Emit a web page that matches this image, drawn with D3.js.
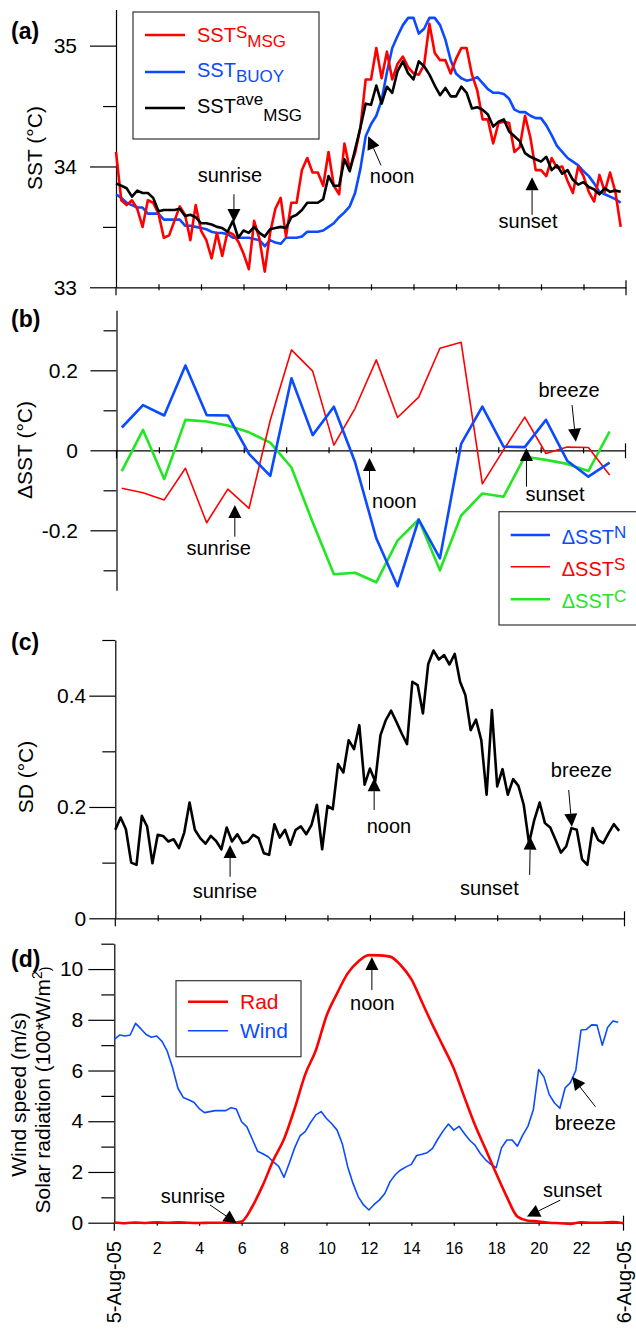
<!DOCTYPE html>
<html>
<head>
<meta charset="utf-8">
<script src="https://cdn.jsdelivr.net/npm/d3@7"></script>
<style>
body { margin:0; background:#fff; }
text { font-family: "Liberation Sans", Arial, sans-serif; }
</style>
</head>
<body>
<svg id="chart"></svg>
<script>
// sample times (hours of 5-Aug-05)
var quarterHours = d3.range(0, 24, 0.25)
var hourMid = d3.range(0.25, 24, 1)
var halfHours = d3.range(0, 24.01, 0.5)
var hourTicks = [2, 4, 6, 8, 10, 12, 14, 16, 18, 20, 22]
var dateLabels = ["5-Aug-05", "6-Aug-05"]

// (a) SST
var sstS = [34.12,33.72,33.68,33.72,33.65,33.50,33.72,33.70,33.61,33.41,33.43,33.55,33.67,33.60,33.39,33.68,
            33.47,33.39,33.24,33.45,33.26,33.46,33.44,33.38,33.28,33.15,33.55,33.40,33.13,33.45,33.65,33.74,
            33.42,33.70,33.70,33.97,34.07,33.95,33.95,33.84,34.12,33.84,33.77,34.19,33.98,34.11,34.32,34.72,
            34.72,34.98,34.73,34.95,34.72,34.85,34.91,34.82,34.77,34.76,34.84,35.18,34.94,34.88,34.88,34.77,
            34.89,34.98,34.98,34.76,34.63,34.39,34.39,34.19,34.36,34.37,34.36,34.12,34.16,34.42,34.24,33.97,
            33.97,33.92,34.07,33.99,34.00,33.88,33.78,34.00,33.92,33.79,33.71,33.93,33.79,33.95,33.79,33.50]
var sstBuoy = [33.77,33.74,33.70,33.68,33.66,33.66,33.61,33.61,33.61,33.56,33.56,33.56,33.56,33.51,33.51,33.50,
               33.49,33.48,33.46,33.45,33.45,33.44,33.41,33.41,33.41,33.41,33.40,33.39,33.34,33.39,33.37,33.36,
               33.41,33.41,33.41,33.42,33.46,33.46,33.46,33.47,33.50,33.53,33.58,33.62,33.67,33.78,33.98,34.25,
               34.35,34.42,34.55,34.78,34.98,35.08,35.17,35.23,35.23,35.10,35.14,35.23,35.23,35.17,35.05,34.88,
               34.77,34.73,34.71,34.72,34.74,34.69,34.64,34.61,34.61,34.60,34.56,34.47,34.45,34.45,34.42,34.40,
               34.40,34.34,34.26,34.17,34.12,34.07,34.04,34.01,33.96,33.92,33.86,33.79,33.77,33.75,33.73,33.70]
var sstAve = [33.86,33.84,33.82,33.75,33.80,33.78,33.78,33.74,33.63,33.64,33.64,33.64,33.65,33.59,33.60,33.58,
              33.53,33.53,33.52,33.50,33.49,33.46,33.55,33.41,33.47,33.45,33.50,33.45,33.42,33.48,33.49,33.50,
              33.49,33.58,33.60,33.64,33.70,33.70,33.70,33.73,33.92,33.84,33.84,34.06,33.96,34.14,34.32,34.52,
              34.51,34.67,34.52,34.66,34.61,34.79,34.87,34.77,34.72,34.87,34.83,34.76,34.67,34.59,34.65,34.58,
              34.58,34.66,34.61,34.48,34.49,34.47,34.43,34.33,34.37,34.39,34.29,34.25,34.21,34.11,34.08,34.06,
              34.04,34.08,33.97,34.01,33.94,33.97,33.89,33.85,33.87,33.83,33.81,33.77,33.82,33.79,33.80,33.79]

// (b) SST differences, hourly
var dSstN = [0.057,0.113,0.087,0.212,0.088,0.087,-0.009,-0.064,0.18,0.038,0.109,-0.03,
             -0.22,-0.34,-0.173,-0.27,0.016,0.109,0.009,0.008,0.076,-0.026,-0.066,-0.031]
var dSstS = [-0.095,-0.106,-0.124,-0.045,-0.181,-0.097,-0.145,0.075,0.251,0.198,0.013,0.105,
             0.226,0.082,0.133,0.255,0.27,-0.084,0.001,0.083,-0.008,0.008,0.007,-0.062]
var dSstC = [-0.052,0.051,-0.072,0.076,0.072,0.062,0.045,0.019,-0.043,-0.18,-0.31,-0.306,
             -0.33,-0.226,-0.173,-0.30,-0.163,-0.108,-0.116,-0.016,-0.024,-0.034,-0.052,0.047]

// (c) SD
var sd = [0.159,0.181,0.160,0.100,0.096,0.184,0.165,0.099,0.150,0.148,0.138,0.142,0.126,0.154,0.208,0.159,
          0.144,0.134,0.148,0.139,0.124,0.163,0.138,0.151,0.135,0.138,0.150,0.144,0.117,0.114,0.169,0.145,
          0.159,0.132,0.159,0.165,0.151,0.168,0.204,0.124,0.202,0.196,0.277,0.262,0.320,0.304,0.347,0.240,
          0.269,0.246,0.329,0.356,0.373,0.353,0.332,0.313,0.425,0.419,0.368,0.457,0.481,0.465,0.473,0.456,
          0.475,0.425,0.401,0.338,0.357,0.320,0.222,0.374,0.237,0.268,0.222,0.250,0.238,0.204,0.135,0.177,
          0.208,0.171,0.163,0.141,0.118,0.129,0.162,0.159,0.106,0.096,0.162,0.141,0.135,0.153,0.169,0.157]

// (d) solar radiation (100*W/m2, half hourly) and wind (m/s)
var rad = [0.01,-0.02,0.01,-0.01,0.02,0.0,0.02,0.0,-0.01,0.0,0.0,0.0,0.05,0.63,1.48,2.47,3.3,4.5,5.85,6.8,
           8.15,9.04,9.83,10.3,10.55,10.54,10.49,10.15,9.6,8.7,7.8,6.95,6.08,4.95,3.85,2.9,1.94,1.02,0.24,
           0.08,0.05,0.0,-0.02,-0.05,0.02,0.0,0.0,0.03,-0.02]
var wind = [7.23,7.40,7.36,7.40,7.86,7.65,7.42,7.31,7.36,7.15,6.75,6.10,5.30,4.94,4.85,4.75,
            4.50,4.34,4.38,4.42,4.42,4.42,4.53,4.48,3.98,3.78,3.30,2.82,2.72,2.60,2.40,2.22,
            1.79,2.35,2.95,3.42,3.59,3.95,4.25,4.38,4.11,3.90,3.65,3.10,2.21,1.55,1.02,0.70,
            0.50,0.72,0.90,1.15,1.62,1.90,2.08,2.20,2.30,2.65,2.70,2.76,2.93,3.30,3.62,3.89,
            3.65,3.80,3.52,3.25,3.06,2.73,2.48,2.30,2.17,2.95,3.26,3.26,3.02,3.45,3.81,4.45,
            6.04,5.75,5.05,4.72,4.51,5.32,5.52,6.00,7.60,7.62,7.80,7.79,7.00,7.70,7.95,7.90]

var screen = {width:636, height:1329}
var red = "#ff0000", blue = "#0b4bff", green = "#22e622"

var svg = d3.select("#chart")
    .attr("width", screen.width)
    .attr("height", screen.height)

svg.append("rect").attr("width", screen.width).attr("height", screen.height).attr("fill", "#fff")

var pair = function(times, vals)
{
    return times.map(function(t, i) { return {h:t, v:vals[i]} })
}

// plain hyphen for negatives, like the original figure
var oneDec = function(d) { return d === 0 ? "0" : d.toFixed(1) }

var drawLine = function(x, y, times, vals, color, width, curve)
{
    var line = d3.line().x(function(d) { return x(d.h) }).y(function(d) { return y(d.v) })
    if (curve) line.curve(curve)
    svg.append("path")
        .datum(pair(times, vals))
        .attr("fill", "none")
        .attr("stroke", color)
        .attr("stroke-width", width)
        .attr("stroke-linejoin", "round")
        .attr("d", line)
}

var drawYAxis = function(x, y, majors, minors, fmt, pad)
{
    svg.append("g")
        .attr("transform", "translate(" + x(0) + ",0)")
        .call(d3.axisLeft(y).tickValues(minors).tickSize(13).tickSizeOuter(0).tickFormat(""))
        .call(function(g) { g.select(".domain").remove() })
        .selectAll("line").attr("stroke-width", 1.2)
    var g = svg.append("g")
        .attr("transform", "translate(" + x(0) + ",0)")
        .call(d3.axisLeft(y).tickValues(majors).tickSize(26).tickSizeOuter(0).tickPadding(pad).tickFormat(fmt))
    g.selectAll("line, path").attr("stroke-width", 1.2)
    g.selectAll("text").attr("font-size", 21).attr("fill", "#000")
}

var drawXAxis = function(x, yPos, labels)
{
    var g = svg.append("g")
        .attr("transform", "translate(0," + yPos + ")")
        .call(d3.axisBottom(x).tickValues(hourTicks).tickSize(3).tickSizeOuter(0).tickPadding(17)
              .tickFormat(labels ? d3.format("d") : ""))
    if (!labels) g.selectAll(".tick line").attr("y1", -3)
    g.selectAll("line, path").attr("stroke-width", 1.2)
    g.selectAll("text").attr("font-size", 16).attr("fill", "#000")
    g.append("line").attr("x1", x(24)).attr("x2", x(24)).attr("y1", -7).attr("y2", 8)
        .attr("stroke", "#000").attr("stroke-width", 1.2)
    g.append("line").attr("x1", x(0)).attr("x2", x(0)).attr("y1", 0).attr("y2", 8)
        .attr("stroke", "#000").attr("stroke-width", 1.2)
}

var drawArrow = function(x1, y1, x2, y2)
{
    var dx = x2 - x1, dy = y2 - y1
    var len = Math.sqrt(dx * dx + dy * dy)
    var ux = dx / len, uy = dy / len
    var hl = 13, hw = 6.5
    var bx = x2 - ux * hl, by = y2 - uy * hl
    svg.append("line")
        .attr("x1", x1).attr("y1", y1).attr("x2", bx).attr("y2", by)
        .attr("stroke", "#000").attr("stroke-width", 1)
    svg.append("path")
        .attr("d", "M" + x2 + "," + y2 + "L" + (bx - uy * hw) + "," + (by + ux * hw) +
                   "L" + (bx + uy * hw) + "," + (by - ux * hw) + "Z")
        .attr("fill", "#000")
}

// annotations in data units: text position, arrow tail, arrow tip
var drawNotes = function(x, y, notes)
{
    notes.forEach(function(n)
    {
        svg.append("text")
            .attr("x", x(n.t[0])).attr("y", y(n.t[1]))
            .attr("text-anchor", "middle")
            .attr("font-size", 20)
            .text(n.label)
        drawArrow(x(n.a[0]), y(n.a[1]), x(n.b[0]), y(n.b[1]))
    })
}

var panelLabel = function(txt, yPos)
{
    svg.append("text").attr("x", 11).attr("y", yPos)
        .attr("font-size", 23).attr("font-weight", "bold").text(txt)
}

var yTitle = function(xPos, yPos, parts)
{
    var t = svg.append("text")
        .attr("transform", "translate(" + xPos + "," + yPos + ") rotate(-90)")
        .attr("text-anchor", "middle")
        .attr("font-size", 21)
    parts.forEach(function(p)
    {
        var s = t.append("tspan").text(p[0])
        if (p[1]) s.attr("font-size", 14).attr("dy", p[1])
    })
}

// ---------- (a)
var xA = d3.scaleLinear().domain([0, 24]).range([116, 626])
var yA = d3.scaleLinear().domain([33, 35.3]).range([287.3, 9.4])
drawYAxis(xA, yA, [33, 34, 35], [33.5, 34.5], d3.format("d"), 13)
drawXAxis(xA, yA(33), false)
drawLine(xA, yA, quarterHours, sstBuoy, blue, 2.6)
drawLine(xA, yA, quarterHours, sstS, red, 2.6)
drawLine(xA, yA, quarterHours, sstAve, "#000", 2.6)
drawNotes(xA, yA, [
    {label:"sunrise", t:[5.36, 33.87], a:[5.55, 33.77], b:[5.55, 33.54]},
    {label:"noon", t:[12.99, 33.86], a:[12.47, 34.01], b:[11.87, 34.25]},
    {label:"sunset", t:[19.39, 33.49], a:[19.58, 33.60], b:[19.58, 33.91]}
])
panelLabel("(a)", 39)
yTitle(42, 148, [["SST (°C)"]])

var legA = svg.append("g")
legA.append("rect").attr("x", 133).attr("y", 12).attr("width", 186).attr("height", 127)
    .attr("fill", "#fff").attr("stroke", "#333").attr("stroke-width", 1.2)
var legAItems = [
    {color:red, y:35, base:41.7, parts:[["SST", 0], ["S", -3.5], ["MSG", 8.5]]},
    {color:blue, y:72, base:76.7, parts:[["SST", 0], ["BUOY", 5]]},
    {color:"#000", y:108, base:113.3, parts:[["SST", 0], ["ave", -8], ["MSG", 16]]}
]
legAItems.forEach(function(it)
{
    legA.append("line").attr("x1", 145).attr("x2", 185).attr("y1", it.y).attr("y2", it.y)
        .attr("stroke", it.color).attr("stroke-width", 2.6)
    var t = legA.append("text").attr("x", 197).attr("y", it.base).attr("fill", it.color).attr("font-size", 20)
    it.parts.forEach(function(p, i)
    {
        var s = t.append("tspan").text(p[0])
        if (i > 0) s.attr("font-size", 17).attr("dy", p[1])
    })
})

// ---------- (b)
var xB = d3.scaleLinear().domain([0, 24]).range([116.5, 625.5])
var yB = d3.scaleLinear().domain([-0.35, 0.35]).range([590.3, 310.3])
drawYAxis(xB, yB, [-0.2, 0, 0.2], [-0.3, -0.1, 0.1, 0.3], oneDec, 12.5)
drawXAxis(xB, yB(0), false)
drawLine(xB, yB, hourMid, dSstC, green, 2.6)
drawLine(xB, yB, hourMid, dSstS, red, 1.6)
drawLine(xB, yB, hourMid, dSstN, blue, 2.6)
drawNotes(xB, yB, [
    {label:"sunrise", t:[4.82, -0.262], a:[5.58, -0.216], b:[5.58, -0.137]},
    {label:"noon", t:[13.1, -0.144], a:[11.93, -0.099], b:[11.93, -0.019]},
    {label:"sunset", t:[20.68, -0.126], a:[19.33, -0.091], b:[19.33, 0.006]},
    {label:"breeze", t:[21.34, 0.134], a:[21.48, 0.113], b:[21.66, 0.0215]}
])
panelLabel("(b)", 327)
yTitle(32, 450, [["ΔSST (°C)"]])

var legB = svg.append("g")
legB.append("rect").attr("x", 499).attr("y", 511.7).attr("width", 150).attr("height", 113.3)
    .attr("fill", "#fff").attr("stroke", "#333").attr("stroke-width", 1.2)
var legBItems = [
    {color:blue, y:535, base:544, sup:"N", w:2.6},
    {color:red, y:566.7, base:575.7, sup:"S", w:1.6},
    {color:green, y:599.3, base:608.3, sup:"C", w:2.6}
]
legBItems.forEach(function(it)
{
    legB.append("line").attr("x1", 510.7).attr("x2", 550).attr("y1", it.y).attr("y2", it.y)
        .attr("stroke", it.color).attr("stroke-width", it.w)
    var t = legB.append("text").attr("x", 561.7).attr("y", it.base).attr("fill", it.color).attr("font-size", 20)
    t.append("tspan").text("ΔSST")
    t.append("tspan").attr("font-size", 17).attr("dy", -6).text(it.sup)
})

// ---------- (c)
var xC = d3.scaleLinear().domain([0, 24]).range([115.3, 624.5])
var yC = d3.scaleLinear().domain([0, 0.5]).range([918.3, 640])
drawYAxis(xC, yC, [0, 0.2, 0.4], [0.1, 0.3, 0.5], oneDec, 3)
drawXAxis(xC, yC(0), false)
drawLine(xC, yC, quarterHours, sd, "#000", 2.6)
drawNotes(xC, yC, [
    {label:"sunrise", t:[5.17, 0.0365], a:[5.41, 0.0747], b:[5.41, 0.1317]},
    {label:"noon", t:[12.9, 0.154], a:[12.2, 0.1945], b:[12.2, 0.2515]},
    {label:"sunset", t:[17.63, 0.042], a:[19.53, 0.078], b:[19.56, 0.1466]},
    {label:"breeze", t:[21.97, 0.2544], a:[21.37, 0.2305], b:[21.52, 0.1645]}
])
panelLabel("(c)", 650)
yTitle(33, 777, [["SD (°C)"]])

// ---------- (d)
var xD = d3.scaleLinear().domain([0, 24]).range([114.3, 623.5])
var yD = d3.scaleLinear().domain([0, 11]).range([1222.7, 943.7])
drawYAxis(xD, yD, [0, 2, 4, 6, 8, 10], [1, 3, 5, 7, 9, 11], d3.format("d"), 5)
drawXAxis(xD, yD(0), true)
drawLine(xD, yD, quarterHours, wind, blue, 1.6)
drawLine(xD, yD, halfHours, rad, red, 2.6, d3.curveMonotoneX)
drawNotes(xD, yD, [
    {label:"sunrise", t:[3.71, 0.78], a:[4.51, 0.70], b:[5.77, -0.02]},
    {label:"noon", t:[12.16, 8.38], a:[12.14, 9.17], b:[12.14, 10.48]},
    {label:"sunset", t:[21.59, 1.02], a:[21.02, 0.89], b:[19.45, 0.24]},
    {label:"breeze", t:[22.2, 3.65], a:[22.68, 4.57], b:[21.58, 5.75]}
])
panelLabel("(d)", 967)
yTitle(26, 1094.5, [["Wind speed (m/s)"]])
yTitle(50, 1090, [["Solar radiation (100*W/m"], ["2", -8], [")", 8]])

// rotated date labels at both ends of the day
dateLabels.forEach(function(lab, i)
{
    var h = i === 0 ? 0 : 24
    svg.append("text")
        .attr("transform", "translate(" + (xD(h) + 7) + ",1241) rotate(-90)")
        .attr("text-anchor", "end")
        .attr("font-size", 20)
        .text(lab)
})

var legD = svg.append("g")
legD.append("rect").attr("x", 176).attr("y", 980.7).attr("width", 125).attr("height", 76)
    .attr("fill", "#fff").attr("stroke", "#333").attr("stroke-width", 1.2)
var legDItems = [
    {color:red, y:1001.7, base:1009, label:"Rad", w:2.6},
    {color:blue, y:1030.7, base:1038.3, label:"Wind", w:1.6}
]
legDItems.forEach(function(it)
{
    legD.append("line").attr("x1", 188).attr("x2", 228).attr("y1", it.y).attr("y2", it.y)
        .attr("stroke", it.color).attr("stroke-width", it.w)
    legD.append("text").attr("x", 240).attr("y", it.base).attr("fill", it.color)
        .attr("font-size", 21).text(it.label)
})
</script>
</body>
</html>
